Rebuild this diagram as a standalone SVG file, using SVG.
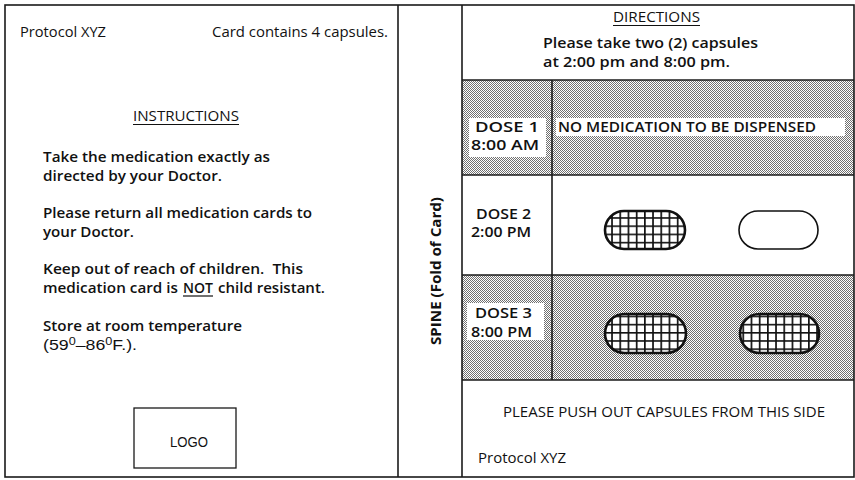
<svg xmlns="http://www.w3.org/2000/svg" width="855" height="480" viewBox="0 0 855 480">
<style>
  .frame { fill: none; stroke: #1a1a1a; stroke-width: 1.6; }
  .b { font-family: "Open Sans", "DejaVu Sans", sans-serif; font-weight: 600; font-size: 14px; fill: #111; }
  .bb { font-family: "Open Sans", "DejaVu Sans", sans-serif; font-weight: 700; font-size: 14px; fill: #111; }
  .r { font-family: "Open Sans", "DejaVu Sans", sans-serif; font-weight: 400; font-size: 14px; fill: #111; }
  .h { font-family: "Liberation Sans", Arial, sans-serif; font-weight: 400; font-size: 14px; fill: #111; }
  .ul { stroke: #111; stroke-width: 1.2; }
  .cap { stroke: #111; stroke-width: 2.6; fill: url(#grid); }
  .capEmpty { stroke: #111; stroke-width: 1.6; fill: #fff; }
  .label { fill: #fff; stroke: none; }
</style>
<defs>
  <pattern id="shade" patternUnits="userSpaceOnUse" width="2" height="2">
    <rect width="2" height="2" fill="#fff"/>
    <rect x="0" y="0" width="1" height="1" fill="#707070"/>
    <rect x="1" y="1" width="1" height="1" fill="#707070"/>
  </pattern>
  <pattern id="grid" patternUnits="userSpaceOnUse" x="603" y="209" width="8.2" height="8.2">
    <rect width="8.2" height="8.2" fill="#fff"/>
    <path d="M0 0.8H8.2M0.8 0V8.2" stroke="#111" stroke-width="1.8" fill="none"/>
  </pattern>
</defs>
<rect width="855" height="480" fill="#fff"/>

<g id="shading">
  <rect x="462" y="80" width="392" height="95" fill="url(#shade)"/>
  <rect x="462" y="275" width="392" height="105" fill="url(#shade)"/>
</g>

<g id="lines">
  <rect class="frame" x="5" y="5" width="849" height="472"/>
  <line class="frame" x1="398" y1="5" x2="398" y2="477"/>
  <line class="frame" x1="462" y1="5" x2="462" y2="477"/>
  <line class="frame" x1="462" y1="80" x2="854" y2="80"/>
  <line class="frame" x1="462" y1="175" x2="854" y2="175"/>
  <line class="frame" x1="462" y1="275" x2="854" y2="275"/>
  <line class="frame" x1="462" y1="380" x2="854" y2="380"/>
  <line class="frame" x1="552" y1="80" x2="552" y2="380"/>
</g>

<g id="left-panel">
  <text class="r" x="20" y="37" textLength="86" lengthAdjust="spacingAndGlyphs">Protocol XYZ</text>
  <text class="r" x="212" y="37" textLength="176" lengthAdjust="spacingAndGlyphs">Card contains 4 capsules.</text>
  <text class="r" x="133" y="121" textLength="106" lengthAdjust="spacingAndGlyphs">INSTRUCTIONS</text>
  <line class="ul" x1="133" y1="124.5" x2="239" y2="124.5"/>
  <text class="b" x="43" y="162" textLength="227" lengthAdjust="spacingAndGlyphs">Take the medication exactly as</text>
  <text class="b" x="43" y="181" textLength="179" lengthAdjust="spacingAndGlyphs">directed by your Doctor.</text>
  <text class="b" x="43" y="218" textLength="269" lengthAdjust="spacingAndGlyphs">Please return all medication cards to</text>
  <text class="b" x="43" y="237" textLength="91" lengthAdjust="spacingAndGlyphs">your Doctor.</text>
  <text class="b" x="43" y="274" textLength="260" lengthAdjust="spacingAndGlyphs" xml:space="preserve">Keep out of reach of children.  This</text>
  <text class="b" x="43" y="293" textLength="135" lengthAdjust="spacingAndGlyphs">medication card is</text>
  <text class="b" x="183" y="293" textLength="30" lengthAdjust="spacingAndGlyphs">NOT</text>
  <line class="ul" x1="183" y1="296" x2="213" y2="296"/>
  <text class="b" x="218" y="293" textLength="107" lengthAdjust="spacingAndGlyphs">child resistant.</text>
  <text class="b" x="43" y="331" textLength="199" lengthAdjust="spacingAndGlyphs">Store at room temperature</text>
  <text class="h" x="43" y="350" textLength="94" lengthAdjust="spacingAndGlyphs">(59<tspan font-size="10" dy="-5">0</tspan><tspan dy="5">–86</tspan><tspan font-size="10" dy="-5">0</tspan><tspan dy="5">F.).</tspan></text>
</g>

<g id="logo">
  <rect x="134" y="408" width="102" height="60" fill="none" stroke="#1a1a1a" stroke-width="1.3"/>
  <text class="h" x="170" y="447" textLength="38" lengthAdjust="spacingAndGlyphs">LOGO</text>
</g>

<g id="spine">
  <text class="bb" transform="translate(441,271) rotate(-90)" x="0" y="0" text-anchor="middle" textLength="148" lengthAdjust="spacingAndGlyphs">SPINE (Fold of Card)</text>
</g>

<g id="directions">
  <text class="r" x="613" y="22" textLength="87" lengthAdjust="spacingAndGlyphs">DIRECTIONS</text>
  <line class="ul" x1="613" y1="25.5" x2="700" y2="25.5"/>
  <text class="b" x="543" y="48" textLength="215" lengthAdjust="spacingAndGlyphs">Please take two (2) capsules</text>
  <text class="b" x="543" y="67" textLength="187" lengthAdjust="spacingAndGlyphs">at 2:00 pm and 8:00 pm.</text>
</g>

<g id="dose1">
  <rect class="label" x="469" y="118" width="77" height="39"/>
  <text class="b" x="475" y="132" textLength="64" lengthAdjust="spacingAndGlyphs">DOSE 1</text>
  <text class="b" x="471" y="150" textLength="68" lengthAdjust="spacingAndGlyphs">8:00 AM</text>
  <rect class="label" x="556" y="118" width="289" height="18"/>
  <text class="b" x="558" y="132" textLength="258" lengthAdjust="spacingAndGlyphs">NO MEDICATION TO BE DISPENSED</text>
</g>

<g id="dose2">
  <text class="b" x="476" y="219" textLength="55" lengthAdjust="spacingAndGlyphs">DOSE 2</text>
  <text class="b" x="471" y="237" textLength="60" lengthAdjust="spacingAndGlyphs">2:00 PM</text>
  <rect class="cap" x="605" y="211" width="80" height="38" rx="19"/>
  <rect class="capEmpty" x="739" y="211" width="79" height="38" rx="19"/>
</g>

<g id="dose3">
  <rect class="label" x="467" y="303" width="77" height="37"/>
  <text class="b" x="475" y="318" textLength="57" lengthAdjust="spacingAndGlyphs">DOSE 3</text>
  <text class="b" x="471" y="337" textLength="61" lengthAdjust="spacingAndGlyphs">8:00 PM</text>
  <rect class="cap" x="605" y="314" width="81" height="39" rx="19.5"/>
  <rect class="cap" x="740" y="314" width="79" height="39" rx="19.5"/>
</g>

<g id="footer">
  <text class="r" x="503" y="417" textLength="322" lengthAdjust="spacingAndGlyphs">PLEASE PUSH OUT CAPSULES FROM THIS SIDE</text>
  <text class="r" x="478" y="463" textLength="88" lengthAdjust="spacingAndGlyphs">Protocol XYZ</text>
</g>
</svg>
